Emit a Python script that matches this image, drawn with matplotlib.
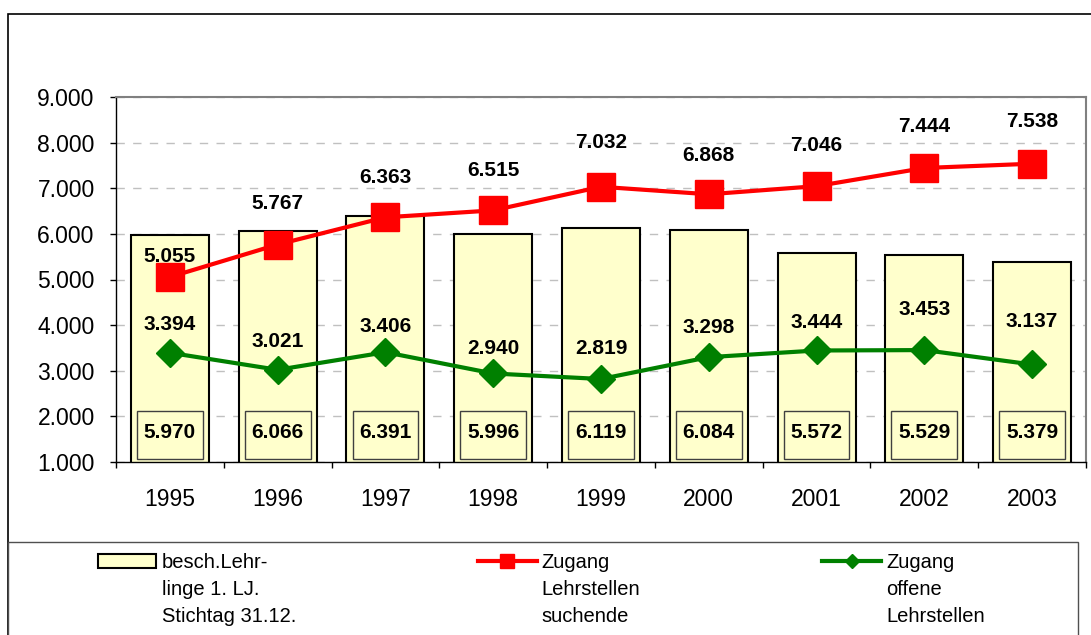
import matplotlib
matplotlib.use("Agg")
import matplotlib.pyplot as plt
from matplotlib.lines import Line2D
from matplotlib.patches import Patch, Rectangle
from matplotlib.ticker import FuncFormatter, FixedLocator

plt.rcParams['font.family'] = ['Liberation Sans', 'DejaVu Sans']

# data
years = ['1995', '1996', '1997', '1998', '1999', '2000', '2001', '2002', '2003']
lehrlinge = [5970, 6066, 6391, 5996, 6119, 6084, 5572, 5529, 5379]
suchende = [5055, 5767, 6363, 6515, 7032, 6868, 7046, 7444, 7538]
offene = [3394, 3021, 3406, 2940, 2819, 3298, 3444, 3453, 3137]

# label offsets above the markers (pixels), as placed in the original
red_off = [20, 41, 40, 40, 44, 39, 41, 41, 42]
green_off = [28, 28, 26, 25, 31, 30, 28, 41, 43]

W, H = 1091, 635
fig = plt.figure(figsize=(W / 100, H / 100), dpi=100)
ax = fig.add_axes([116 / W, 1 - 462 / H, (1086 - 116) / W, (462 - 97) / H])

x = list(range(len(years)))
px = 72 / 100  # pixel -> point


def fmt(v):
    return f'{int(v):,}'.replace(',', '.')


ax.bar(x, lehrlinge, width=0.724, color='#FFFFCC', edgecolor='black',
       linewidth=1.5, zorder=2)
# boxed labels at the bottom of the bars
ax.bar(x, [1050] * len(x), bottom=1068, width=0.61, color='#FFFFCC',
       edgecolor='#404040', linewidth=1, zorder=3)
for i, v in enumerate(lehrlinge):
    ax.text(i, 1640, fmt(v), ha='center', va='center',
            fontsize=15, fontweight='bold', zorder=6)

ax.plot(x, suchende, color='#FF0000', lw=3, marker='s', markersize=19.5,
        markeredgecolor='#FF0000', zorder=4)
ax.plot(x, offene, color='#008000', lw=3, marker='D', markersize=14,
        markeredgecolor='#008000', zorder=4)

for i, v in enumerate(suchende):
    ax.annotate(fmt(v), (i, v), xytext=(0, red_off[i] * px),
                textcoords='offset points', ha='center', va='center',
                fontsize=15, fontweight='bold', zorder=6)
for i, v in enumerate(offene):
    ax.annotate(fmt(v), (i, v), xytext=(0, green_off[i] * px),
                textcoords='offset points', ha='center', va='center',
                fontsize=15, fontweight='bold', zorder=6)

ax.set_xlim(-0.5, len(years) - 0.5)
ax.set_ylim(1000, 9000)
ax.set_yticks(range(1000, 9001, 1000))
ax.yaxis.set_major_formatter(FuncFormatter(lambda v, p: fmt(v)))
ax.set_xticks(x)
ax.set_xticklabels(years)
ax.xaxis.set_minor_locator(FixedLocator([i - 0.5 for i in range(len(years) + 1)]))
ax.tick_params(axis='x', which='major', length=0, pad=19, labelsize=16.5)
ax.tick_params(axis='x', which='minor', length=6 * px, width=1, direction='out')
ax.tick_params(axis='y', length=6 * px, width=1, direction='out', pad=11, labelsize=16.5)

ax.yaxis.grid(True, linestyle=(0, (6, 6)), color='#C0C0C0', lw=1)
ax.set_axisbelow(True)
for s in ['left', 'bottom']:
    ax.spines[s].set_color('black')
    ax.spines[s].set_linewidth(1)
for s in ['top', 'right']:
    ax.spines[s].set_color('#808080')
    ax.spines[s].set_linewidth(1.5)

# frames
fig.patches.append(Rectangle((8 / W, -0.1), 1.2, 1 - 14 / H + 0.1, transform=fig.transFigure,
                             fill=False, ec='black', lw=1.2))
fig.patches.append(Rectangle((8 / W, -0.1), (1078 - 8) / W, 1 - 542 / H + 0.1,
                             transform=fig.transFigure, fill=False, ec='#505050', lw=1))

# legend: one visible handle per column, extra label lines with blank handles
blank = Line2D([], [], linestyle='none')
bar_h = Patch(facecolor='#FFFFCC', edgecolor='black', linewidth=1.5)
red_h = Line2D([], [], color='#FF0000', lw=3, marker='s', markersize=10)
green_h = Line2D([], [], color='#008000', lw=3, marker='D', markersize=7)
handles = [bar_h, blank, blank, red_h, blank, blank, green_h, blank, blank]
labels = ['besch.Lehr-', 'linge 1. LJ.', 'Stichtag 31.12.',
          'Zugang', 'Lehrstellen', 'suchende',
          'Zugang', 'offene', 'Lehrstellen']
fig.legend(handles, labels, ncol=3, loc='upper left', bbox_to_anchor=(88 / W, 1 - 543 / H),
           frameon=False, fontsize=14.5, borderpad=0, handlelength=2.9, handleheight=0.75,
           handletextpad=0.25, columnspacing=9.05, labelspacing=0.4)

fig.savefig('out.png', dpi=100)
